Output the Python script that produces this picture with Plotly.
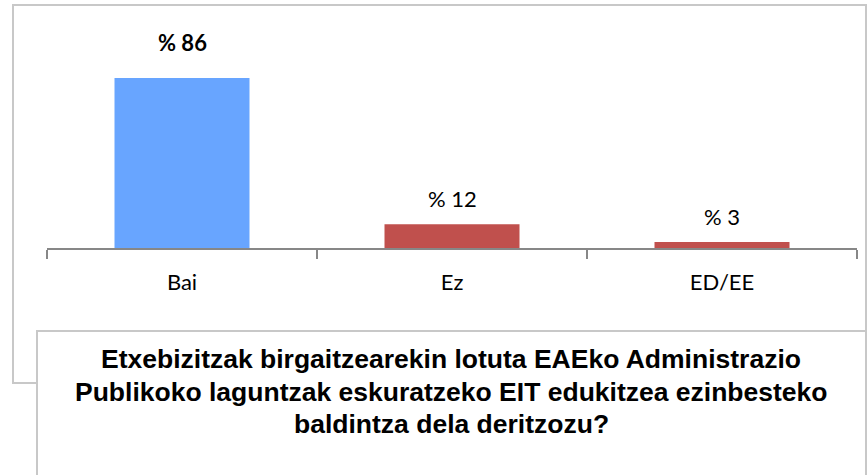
import plotly.graph_objects as go

W, H = 868, 475

categories = ["Bai", "Ez", "ED/EE"]
values = [86, 12, 3]
value_labels = ["% 86", "% 12", "% 3"]
title_lines = [
    "Etxebizitzak birgaitzearekin lotuta EAEko Administrazio",
    "Publikoko laguntzak eskuratzeko EIT edukitzea ezinbesteko",
    "baldintza dela deritzozu?",
]

bar_colors = ["#68A5FF", "#C0504D", "#C0504D"]
label_bold = [True, False, False]

def px_x(p):
    return p / W

def px_y(p):
    return 1 - p / H

fig = go.Figure()
fig.add_trace(go.Bar(
    x=categories, y=values, width=0.5,
    marker=dict(color=bar_colors, line=dict(width=0)),
    hoverinfo="skip",
))

annotations = []
for c, v, t, b in zip(categories, values, value_labels, label_bold):
    annotations.append(dict(
        x=c, y=v, xref="x", yref="y", text=(f"<b>{t}</b>" if b else t),
        showarrow=False, yanchor="middle", yshift=(35 if b else 26),
        font=dict(family="Lato, Open Sans, sans-serif", size=22, color="#000000"),
    ))

line_y = [359, 392, 424]
for t, yy in zip(title_lines, line_y):
    annotations.append(dict(
        x=px_x(451), y=px_y(yy), xref="paper", yref="paper",
        text=f"<b>{t}</b>", showarrow=False, xanchor="center", yanchor="middle",
        font=dict(family="Liberation Sans, Arial, sans-serif", size=26.5, color="#000000"),
    ))

shapes = [
    dict(type="rect", xref="paper", yref="paper", layer="below",
         x0=px_x(13), x1=px_x(866), y0=px_y(383), y1=px_y(5),
         line=dict(color="#C8C8C8", width=2), fillcolor="white"),
    dict(type="rect", xref="paper", yref="paper", layer="above",
         x0=px_x(37), x1=px_x(866), y0=px_y(490), y1=px_y(331),
         line=dict(color="#C8C8C8", width=2), fillcolor="white"),
]

fig.update_layout(
    width=W, height=H, autosize=False,
    margin=dict(l=0, r=0, t=0, b=0),
    paper_bgcolor="white", plot_bgcolor="rgba(0,0,0,0)",
    showlegend=False,
    annotations=annotations,
    shapes=shapes,
    xaxis=dict(
        domain=[px_x(47), px_x(857)],
        showline=True, linecolor="#878787", linewidth=1.5,
        ticks="outside", tickson="boundaries", ticklen=9, tickcolor="#878787", tickwidth=1.5,
        ticklabelstandoff=14,
        tickfont=dict(family="Lato, Open Sans, sans-serif", size=22, color="#000000"),
        showgrid=False, zeroline=False, fixedrange=True,
    ),
    yaxis=dict(
        domain=[px_y(248), px_y(30)],
        range=[0, 218 / (170 / 86)], visible=False, showgrid=False, zeroline=False, fixedrange=True,
    ),
)

fig.write_html(
    "out.html",
    config={"displayModeBar": False, "staticPlot": True},
    post_script="document.body.style.margin='0';document.body.style.overflow='hidden';",
)
